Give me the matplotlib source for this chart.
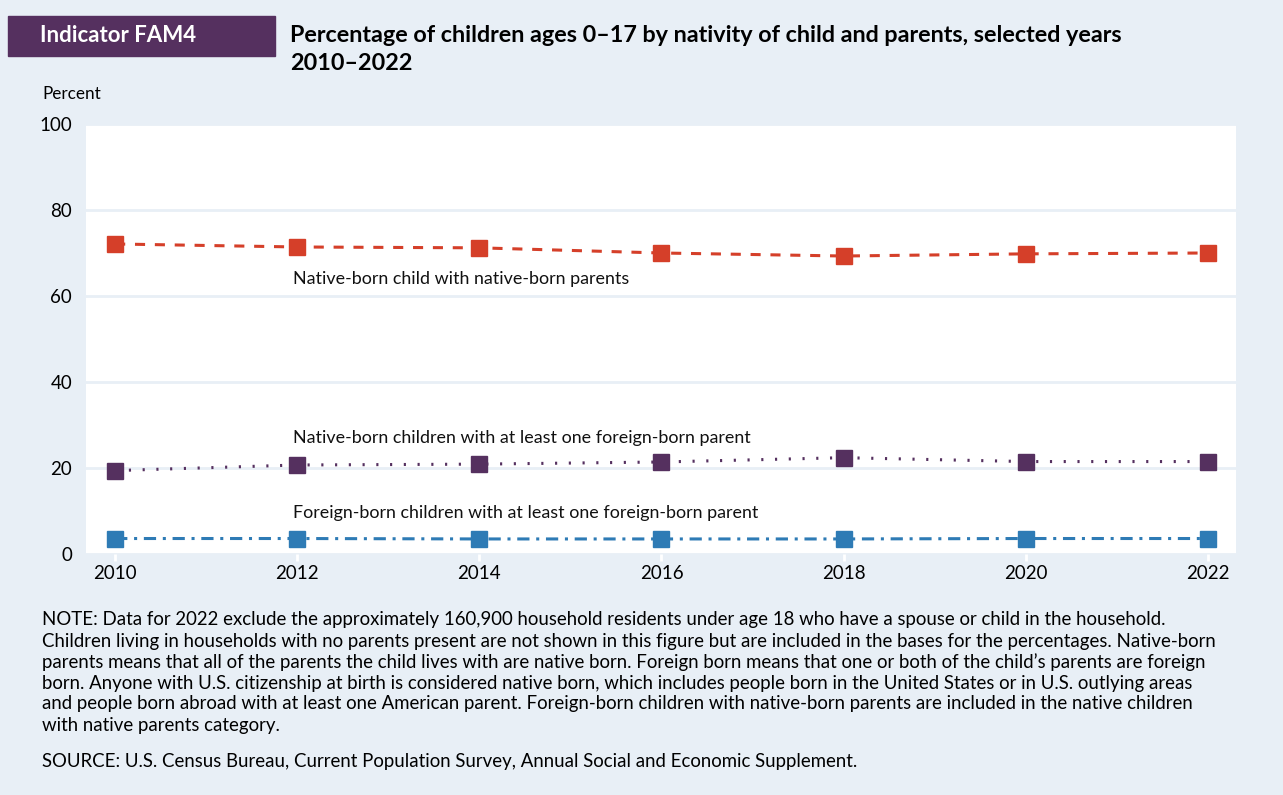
import matplotlib.pyplot as plt

plt.rcParams['font.family'] = ['Lato', 'DejaVu Sans']

years = [2010, 2012, 2014, 2016, 2018, 2020, 2022]
native_native = [72.1, 71.4, 71.2, 70.0, 69.3, 69.8, 70.0]
native_foreign = [19.4, 20.7, 20.9, 21.4, 22.4, 21.5, 21.5]
foreign_foreign = [3.6, 3.6, 3.5, 3.5, 3.5, 3.6, 3.6]

series_labels = [
    "Native-born child with native-born parents",
    "Native-born children with at least one foreign-born parent",
    "Foreign-born children with at least one foreign-born parent",
]

bg = '#e8eff6'
red = '#d53f29'
purple = '#55305f'
blue = '#2e7bb5'

fig = plt.figure(figsize=(12.83, 7.95), dpi=100)
fig.patch.set_facecolor(bg)

ax = fig.add_axes([86 / 1283, 1 - 554 / 795, 1150 / 1283, 430 / 795])
ax.set_facecolor('white')

ax.plot(years, native_native, color=red, lw=2.2, dashes=(3.3, 3.2),
        marker='s', ms=11.5, mec=red, mfc=red, zorder=3)
ax.plot(years, native_foreign, color=purple, lw=2.2, dashes=(0.7, 3.8),
        dash_capstyle='butt', marker='s', ms=11.5, mec=purple, mfc=purple, zorder=3)
ax.plot(years, foreign_foreign, color=blue, lw=2.2, dashes=(4, 2.2, 1, 2.2),
        marker='s', ms=11.5, mec=blue, mfc=blue, zorder=3)

ax.text(2011.95, 63.9, series_labels[0], fontsize=12.9, va='center', ha='left', color='#111111')
ax.text(2011.95, 26.9, series_labels[1], fontsize=12.9, va='center', ha='left', color='#111111')
ax.text(2011.95, 9.6, series_labels[2], fontsize=12.9, va='center', ha='left', color='#111111')

ax.set_xlim(2009.68, 2022.31)
ax.set_ylim(0, 100)
ax.set_xticks(years)
ax.set_yticks([0, 20, 40, 60, 80, 100])
ax.grid(axis='y', color=bg, lw=2)
ax.set_axisbelow(True)
for s in ax.spines.values():
    s.set_visible(False)
ax.tick_params(axis='x', length=5, width=2, color='white', labelsize=13.5, pad=3)
ax.tick_params(axis='y', length=0, labelsize=13.5, pad=10)

# header
fig.patches.append(plt.Rectangle((8 / 1283, 1 - 56 / 795), 267 / 1283, 40 / 795,
                                 transform=fig.transFigure, color=purple, zorder=0))
fig.text(40 / 1283, 1 - 36 / 795, "Indicator FAM4", color='white', fontsize=16,
         fontweight='bold', va='center', ha='left')
fig.text(290 / 1283, 1 - 36 / 795, "Percentage of children ages 0\u201317 by nativity of child and parents, selected years",
         fontsize=16.8, fontweight='bold', va='center', ha='left')
fig.text(290 / 1283, 1 - 64 / 795, "2010\u20132022", fontsize=16.8, fontweight='bold',
         va='center', ha='left')
fig.text(42 / 1283, 1 - 94 / 795, "Percent", fontsize=12.3, va='center', ha='left')

notes = [
    "NOTE: Data for 2022 exclude the approximately 160,900 household residents under age 18 who have a spouse or child in the household.",
    "Children living in households with no parents present are not shown in this figure but are included in the bases for the percentages. Native-born",
    "parents means that all of the parents the child lives with are native born. Foreign born means that one or both of the child\u2019s parents are foreign",
    "born. Anyone with U.S. citizenship at birth is considered native born, which includes people born in the United States or in U.S. outlying areas",
    "and people born abroad with at least one American parent. Foreign-born children with native-born parents are included in the native children",
    "with native parents category.",
]
for i, line in enumerate(notes):
    fig.text(42 / 1283, 1 - (620 + 21 * i) / 795, line, fontsize=13.4, va='center', ha='left')
fig.text(42 / 1283, 1 - 761 / 795,
         "SOURCE: U.S. Census Bureau, Current Population Survey, Annual Social and Economic Supplement.",
         fontsize=13.4, va='center', ha='left')

fig.savefig('out.png', dpi=100, facecolor=bg)
